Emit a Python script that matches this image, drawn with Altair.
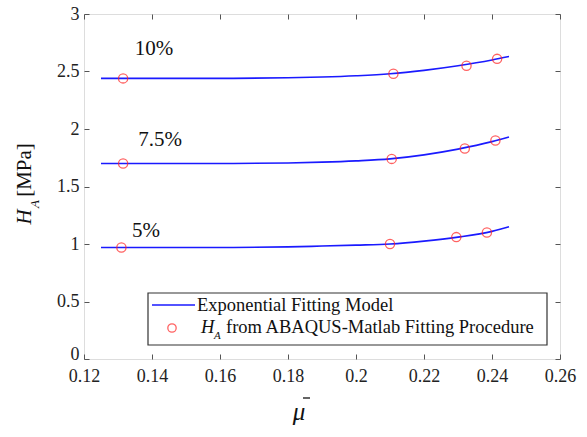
import altair as alt
import pandas as pd

# ---- data ----
curve_x = [0.125, 0.14, 0.16, 0.18, 0.19, 0.20, 0.21, 0.22, 0.23, 0.24, 0.245]
curve_10 = [2.44, 2.44, 2.44, 2.445, 2.452, 2.463, 2.48, 2.51, 2.55, 2.60, 2.63]
curve_75 = [1.70, 1.70, 1.70, 1.705, 1.712, 1.723, 1.74, 1.775, 1.825, 1.89, 1.93]
curve_5 = [0.97, 0.97, 0.97, 0.975, 0.982, 0.99, 1.00, 1.025, 1.06, 1.11, 1.15]

pts_x_10 = [0.1315, 0.2110, 0.2325, 0.2415]
pts_y_10 = [2.44, 2.48, 2.55, 2.61]
pts_x_75 = [0.1315, 0.2105, 0.2320, 0.2410]
pts_y_75 = [1.70, 1.74, 1.83, 1.90]
pts_x_5 = [0.1310, 0.2100, 0.2295, 0.2385]
pts_y_5 = [0.97, 1.00, 1.06, 1.10]

x_ticks = [0.12, 0.14, 0.16, 0.18, 0.20, 0.22, 0.24, 0.26]
y_ticks = [0, 0.5, 1, 1.5, 2, 2.5, 3]

FONT = "Liberation Serif, DejaVu Serif, serif"
W, H = 476, 345

curves = pd.DataFrame(
    [{"x": x, "y": y, "s": "10%"} for x, y in zip(curve_x, curve_10)]
    + [{"x": x, "y": y, "s": "7.5%"} for x, y in zip(curve_x, curve_75)]
    + [{"x": x, "y": y, "s": "5%"} for x, y in zip(curve_x, curve_5)]
)
points = pd.DataFrame(
    [{"x": x, "y": y, "s": "10%"} for x, y in zip(pts_x_10, pts_y_10)]
    + [{"x": x, "y": y, "s": "7.5%"} for x, y in zip(pts_x_75, pts_y_75)]
    + [{"x": x, "y": y, "s": "5%"} for x, y in zip(pts_x_5, pts_y_5)]
)

xscale = alt.Scale(domain=[0.12, 0.26], nice=False, zero=False)
yscale = alt.Scale(domain=[0, 3], nice=False)

tick_common = dict(domain=False, grid=False, tickSize=5, offset=-5, tickColor="#555", title=None)
label_common = dict(labelFont=FONT, labelFontSize=18, labelColor="#222")

x_bottom = alt.Axis(orient="bottom", values=x_ticks, format="~g", labelPadding=8,
                    labelFlush=False, **tick_common, **label_common)
y_left = alt.Axis(orient="left", values=y_ticks, format="~g", labelPadding=5,
                  labelBaseline=alt.ExprRef("datum.value === 0 ? 'alphabetic' : 'middle'"),
                  **tick_common, **label_common)
x_top = alt.Axis(orient="top", values=x_ticks, labels=False, **tick_common)
y_right = alt.Axis(orient="right", values=y_ticks, labels=False, **tick_common)

lines = alt.Chart(curves).mark_line(color="#1a1aff", strokeWidth=1.6, interpolate="monotone").encode(
    x=alt.X("x:Q", scale=xscale, axis=x_bottom),
    y=alt.Y("y:Q", scale=yscale, axis=y_left),
    detail="s:N",
)

circles = alt.Chart(points).mark_point(shape="circle", filled=False, color="#ff2020",
                                       size=85, strokeWidth=1.3).encode(
    x=alt.X("x:Q", scale=xscale, axis=x_top),
    y=alt.Y("y:Q", scale=yscale, axis=y_right),
)

one = pd.DataFrame({"a": [0]})

def txt(text, px, py, size=20, style="normal", align="center", angle=0, baseline="middle"):
    return alt.Chart(one).mark_text(text=text, font=FONT, fontSize=size, fontStyle=style,
                                    align=align, baseline=baseline, angle=angle,
                                    color="#111").encode(x=alt.value(px), y=alt.value(py))

labels = [
    txt("10%", 70, 35, size=21),
    txt("7.5%", 76, 126, size=21),
    txt("5%", 62, 217, size=21),
]

legend_box = alt.Chart(one).mark_rect(fill="white", stroke="#333", strokeWidth=1.2).encode(
    x=alt.value(64), x2=alt.value(463), y=alt.value(279), y2=alt.value(331))
legend_line = alt.Chart(one).mark_rule(color="#1a1aff", strokeWidth=1.6).encode(
    x=alt.value(68), x2=alt.value(111), y=alt.value(291))
legend_pt = alt.Chart(one).mark_point(shape="circle", filled=False, color="#ff2020",
                                      size=70, strokeWidth=1.3).encode(
    x=alt.value(88), y=alt.value(314))
legend_texts = [
    txt("Exponential Fitting Model", 113, 291, size=18.5, align="left"),
    txt("H", 117, 313, size=18.5, style="italic", align="left"),
    txt("A", 130, 322, size=11, style="italic", align="left"),
    txt("from ABAQUS-Matlab Fitting Procedure", 142, 313, size=18.5, align="left"),
]

macron = alt.Chart(one).mark_rule(color="#111", strokeWidth=1.3).encode(
    x=alt.value(219), x2=alt.value(226), y=alt.value(384))

titles = [
    txt("H", -59, 203, size=21, style="italic", angle=270),
    txt("A", -49, 190, size=13, style="italic", angle=270),
    txt("[MPa]", -59, 156, size=21, angle=270),
    txt("μ", 215, 398, size=25, style="italic"),
]

chart = alt.layer(
    lines, circles, *labels, legend_box, legend_line, legend_pt, *legend_texts, *titles, macron
).resolve_axis(x="independent", y="independent").properties(
    width=W, height=H,
    autosize=alt.AutoSizeParams(type="none"),
    padding={"left": 84, "top": 14, "right": 27, "bottom": 78},
).configure_view(stroke="#555", strokeWidth=1.2).configure_axis(
    labelFont=FONT
).configure(background="white", font=FONT)

chart.save("out.html", embed_options={"renderer": "svg", "actions": False})
